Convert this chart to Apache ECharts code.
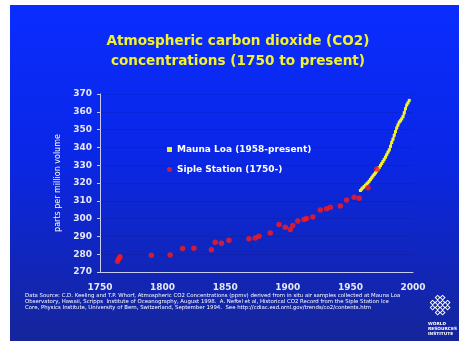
<!DOCTYPE html>
<html>
<head>
<meta charset="utf-8">
<script src="https://cdn.jsdelivr.net/npm/echarts@6/dist/echarts.min.js"></script>
<style>
  html, body { margin: 0; padding: 0; background: #fff; }
  #chart { width: 459px; height: 346px; }
</style>
</head>
<body>
<div id="chart"></div>
<script>
// Mauna Loa yearly readings (ppmv)
const maunaLoaYears = [1958, 1959, 1960, 1961, 1962, 1963, 1964, 1965, 1966, 1967,
  1968, 1969, 1970, 1971, 1972, 1973, 1974, 1975, 1976, 1977,
  1978, 1979, 1980, 1981, 1982, 1983, 1984, 1985, 1986, 1987,
  1988, 1989, 1990, 1991, 1992, 1993, 1994, 1995, 1996, 1997];
const maunaLoaPpm = [315.8, 316.6, 317.3, 318.0, 318.7, 319.4, 320.1, 321.0, 322.0, 322.9,
  323.9, 324.8, 325.7, 326.7, 327.7, 328.7, 329.8, 330.9, 332.1, 333.3,
  334.5, 335.9, 337.3, 338.6, 340.6, 342.8, 344.6, 346.8, 348.9, 350.9,
  352.6, 354.2, 355.0, 356.0, 357.3, 359.4, 361.8, 363.8, 365.0, 366.4];

// Siple Station ice core
const sipleYears = [1764, 1765, 1766, 1791, 1806, 1816, 1825, 1839, 1842, 1847,
  1853, 1869, 1874, 1877, 1886, 1893, 1898, 1902, 1904, 1908,
  1913, 1915, 1920, 1926, 1931, 1934, 1942, 1947, 1953, 1957,
  1964, 1971];
const siplePpm = [276.0, 277.4, 278.6, 279.4, 279.6, 283.2, 283.3, 282.5, 286.7, 286.1,
  287.8, 288.7, 289.1, 290.1, 291.9, 296.7, 295.2, 293.9, 296.1, 298.6,
  299.5, 300.0, 300.9, 304.8, 305.6, 306.4, 307.1, 310.5, 312.0, 311.5,
  317.4, 327.8];

const seriesNames = ["Mauna Loa (1958-present)", "Siple Station (1750-)"];
const titleLines = ["Atmospheric carbon dioxide (CO2)", "concentrations (1750 to present)"];
const yAxisName = "parts per million volume";
const footerLines = [
  "Data Source: C.D. Keeling and T.P. Whorf, Atmospheric CO2 Concentrations (ppmv) derived from in situ air samples collected at Mauna Loa",
  "Observatory, Hawaii, Scripps  Institute of Oceanography, August 1998.  A. Neftel et al, Historical CO2 Record from the Siple Station Ice",
  "Core, Physics Institute, University of Bern, Switzerland, September 1994.  See http://cdiac.esd.ornl.gov/trends/co2/contents.htm"
];

const zip = (xs, ys) => xs.map((x, i) => [x, ys[i]]);

const chart = echarts.init(document.getElementById("chart"), null, { renderer: "canvas" });

const font = "DejaVu Sans";
const yellow = "#f4f22a";
const red = "#ff1a1a";

// little WRI knot: a lattice of diamonds
const knot = [];
for (let r = 0; r < 4; r++) {
  for (let c = 0; c < 4; c++) {
    if ((r === 0 || r === 3) && (c === 0 || c === 3)) continue;
    knot.push({
      type: "rect",
      x: 431 + c * 5,
      y: 296 + r * 5,
      shape: { width: 3.2, height: 3.2 },
      rotation: Math.PI / 4,
      originX: 1.6, originY: 1.6,
      style: { fill: "none", stroke: "#ffffff", lineWidth: 1 }
    });
  }
}

const options = {
  animation: false,
  textStyle: { fontFamily: font },
  graphic: [
    {
      type: "rect",
      z: -10,
      shape: { x: 10, y: 5, width: 449, height: 336 },
      style: {
        fill: new echarts.graphic.LinearGradient(0, 0, 0, 1, [
          { offset: 0, color: "#0a2dff" },
          { offset: 0.45, color: "#0a27e6" },
          { offset: 1, color: "#16259a" }
        ])
      }
    },
    {
      type: "text",
      x: 238,
      y: 31,
      style: {
        text: titleLines.join("\n"),
        fill: yellow,
        font: "bold 13.6px 'DejaVu Sans'",
        lineHeight: 20,
        align: "center"
      }
    },
    {
      type: "text",
      left: 25,
      top: 292,
      style: {
        text: footerLines.join("\n"),
        fill: "#ffffff",
        font: "5.4px 'DejaVu Sans'",
        lineHeight: 6.2
      }
    },
    ...knot,
    {
      type: "text",
      left: 428,
      top: 321,
      style: {
        text: "WORLD\nRESOURCES\nINSTITUTE",
        fill: "#ffffff",
        font: "bold 4.3px 'DejaVu Sans'",
        lineHeight: 5,
        align: "right"
      }
    }
  ],
  grid: { left: 100, right: 46, top: 94, bottom: 74 },
  legend: {
    orient: "vertical",
    left: 162,
    top: 140,
    itemGap: 11,
    itemWidth: 5,
    itemHeight: 5,
    selectedMode: false,
    textStyle: { color: "#ffffff", fontWeight: "bold", fontSize: 9, fontFamily: font },
    data: [
      { name: seriesNames[0], icon: "rect" },
      { name: seriesNames[1], icon: "circle" }
    ]
  },
  xAxis: {
    type: "value",
    min: 1750,
    max: 2000,
    interval: 50,
    axisLine: { lineStyle: { color: "#c9cdf0", width: 1 } },
    axisTick: { show: false },
    splitLine: { show: false },
    axisLabel: {
      color: "#e6e8f5", fontWeight: "bold", fontSize: 9, margin: 11,
      formatter: (v) => String(v)
    }
  },
  yAxis: {
    type: "value",
    min: 270,
    max: 370,
    interval: 10,
    name: yAxisName,
    nameLocation: "middle",
    nameGap: 28,
    nameTextStyle: { color: "#ffffff", fontSize: 8, fontFamily: font },
    axisLine: { show: true, lineStyle: { color: "#c9cdf0", width: 1 } },
    axisTick: { show: true, length: 3, lineStyle: { color: "#c9cdf0" } },
    splitLine: { show: true, lineStyle: { color: "rgba(0,0,60,0.1)", width: 1 } },
    axisLabel: { color: "#e6e8f5", fontWeight: "bold", fontSize: 9, margin: 8 }
  },
  series: [
    {
      name: seriesNames[0],
      type: "line",
      data: zip(maunaLoaYears, maunaLoaPpm),
      symbol: "rect",
      symbolSize: 3,
      showSymbol: true,
      itemStyle: { color: yellow },
      lineStyle: { color: yellow, width: 2 },
      z: 2
    },
    {
      name: seriesNames[1],
      type: "scatter",
      data: zip(sipleYears, siplePpm),
      symbol: "circle",
      symbolSize: 5.5,
      itemStyle: { color: red },
      z: 3
    }
  ]
};

chart.setOption(options);
</script>
</body>
</html>
